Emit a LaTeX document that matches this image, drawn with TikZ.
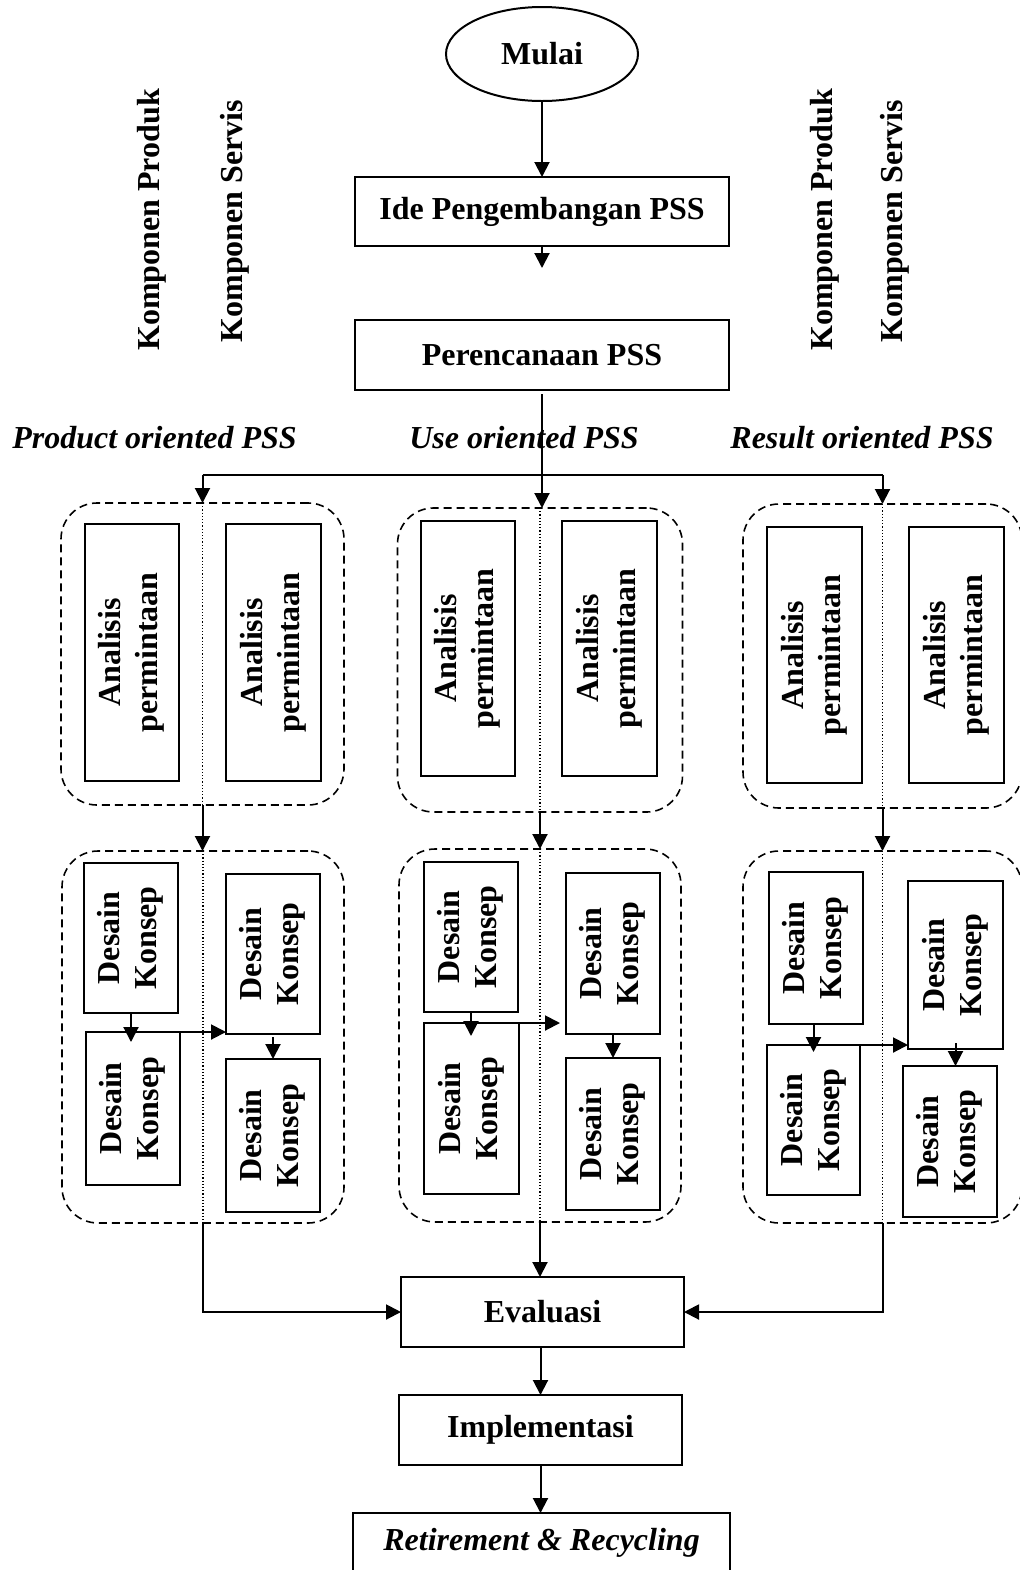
\documentclass[tikz,border=0pt]{standalone}
\usepackage{fontspec}
\setmainfont{Liberation Serif}
\usepackage{graphicx}
\usetikzlibrary{arrows.meta,shapes.geometric}

% two-line text turned upright inside a box
\newcommand\vtext[2]{\rotatebox{90}{\begin{tabular}{@{}c@{}}#1\\#2\end{tabular}}}

\tikzset{
  sz/.style 2 args={minimum width=#1*0.5pt, minimum height=#2*0.5pt},
  box/.style={draw, rectangle, line width=1pt},
  grp/.style={draw, rectangle, line width=0.8pt, dash pattern=on 4pt off 2.5pt, rounded corners=18pt},
  arr/.style={line width=1pt, -{Triangle[length=7.5pt,width=7.5pt]}},
  ln/.style={line width=1pt},
  sep/.style={line width=0.6pt, dash pattern=on 0.6pt off 1pt},
  lbl/.style={font=\fontsize{16}{18.4}\selectfont\bfseries\itshape},
}

\begin{document}
\begin{tikzpicture}[x=0.5pt,y=-0.5pt,
  font=\fontsize{16}{18.4}\selectfont\bfseries,
  every node/.style={inner sep=0pt, outer sep=0pt}]
\useasboundingbox (0,0) rectangle (1020,1570);

% ---- main column, top ----
\node[draw, ellipse, line width=1pt, sz={192}{94}] (mulai) at (542,54) {Mulai};
\node[box, sz={374}{69}] (ide) at (542,211.5) {Ide Pengembangan PSS};
\node[box, sz={374}{70}] (peren) at (542,355) {Perencanaan PSS};
\coordinate (idegap) at (542,268);

\draw[arr] (mulai.south) -- (ide.north);
\draw[arr] (ide.south) -- (idegap);

% ---- column headings ----
\node[rotate=90] (kp1) at (152,220) {Komponen Produk};
\node[rotate=90] (ks1) at (235,221) {Komponen Servis};
\node[rotate=90] (kp2) at (825,220) {Komponen Produk};
\node[rotate=90] (ks2) at (895,221) {Komponen Servis};

\node[lbl] (lp) at (154.5,438) {Product oriented PSS};
\node[lbl] (lu) at (524,438) {Use oriented PSS};
\node[lbl] (lr) at (862,438) {Result oriented PSS};

% ---- dashed groups ----
\node[grp, sz={283}{302}] (g1t) at (202.5,654) {};
\node[grp, sz={285}{304}] (g2t) at (540,660) {};
\node[grp, sz={279}{304}] (g3t) at (882.5,656) {};
\node[grp, sz={282}{372}] (g1b) at (203,1037) {};
\node[grp, sz={282}{373}] (g2b) at (540,1035.5) {};
\node[grp, sz={279}{372}] (g3b) at (882.5,1037) {};

\foreach \g in {g1t,g2t,g3t,g1b,g2b,g3b}
  \draw[sep] (\g.north) -- (\g.south);

% ---- demand analysis boxes ----
\node[box, sz={94}{257}] (a1p) at (132,652.5) {\vtext{Analisis}{permintaan}};
\node[box, sz={95}{257}] (a1s) at (273.5,652.5) {\vtext{Analisis}{permintaan}};
\node[box, sz={94}{255}] (a2p) at (468,648.5) {\vtext{Analisis}{permintaan}};
\node[box, sz={95}{255}] (a2s) at (609.5,648.5) {\vtext{Analisis}{permintaan}};
\node[box, sz={95}{256}] (a3p) at (814.5,655) {\vtext{Analisis}{permintaan}};
\node[box, sz={95}{256}] (a3s) at (956.5,655) {\vtext{Analisis}{permintaan}};

% ---- concept design boxes ----
\node[box, sz={94}{150}] (d1a) at (131,938) {\vtext{Desain}{Konsep}};
\node[box, sz={94}{153}] (d1b) at (133,1108.5) {\vtext{Desain}{Konsep}};
\node[box, sz={94}{160}] (d1c) at (273,954) {\vtext{Desain}{Konsep}};
\node[box, sz={94}{153}] (d1d) at (273,1135.5) {\vtext{Desain}{Konsep}};

\node[box, sz={94}{150}] (d2a) at (471,937) {\vtext{Desain}{Konsep}};
\node[box, sz={95}{171}] (d2b) at (471.5,1108.5) {\vtext{Desain}{Konsep}};
\node[box, sz={94}{161}] (d2c) at (613,953.5) {\vtext{Desain}{Konsep}};
\node[box, sz={94}{152}] (d2d) at (613,1134) {\vtext{Desain}{Konsep}};

\node[box, sz={94}{152}] (d3a) at (816,948) {\vtext{Desain}{Konsep}};
\node[box, sz={93}{150}] (d3b) at (813.5,1120) {\vtext{Desain}{Konsep}};
\node[box, sz={95}{168}] (d3c) at (955.5,965) {\vtext{Desain}{Konsep}};
\node[box, sz={94}{151}] (d3d) at (950,1141.5) {\vtext{Desain}{Konsep}};

% ---- main column, bottom ----
\node[box, sz={283}{70}] (eval) at (542.5,1312) {Evaluasi};
\node[box, sz={283}{70}] (impl) at (540.5,1430) {Implementasi};
\node[box, sz={377}{59}, lbl] (retire) at (541.5,1542.5) {Retirement \& Recycling};

% ---- distribution from planning ----
\coordinate (split) at (542,475);
\draw[arr, shorten <=2pt] (peren.south) -- (peren.south |- g2t.north);
\draw[ln] (g1t.north |- split) -- (g3t.north |- split);
\draw[arr] (g1t.north |- split) -- (g1t.north);
\draw[arr] (g3t.north |- split) -- (g3t.north);

% ---- analysis to design ----
\draw[arr] (g1t.south) -- (g1t.south |- g1b.north);
\draw[arr] (g2t.south) -- (g2t.south |- g2b.north);
\draw[arr] (g3t.south) -- (g3t.south |- g3b.north);

% ---- flows inside the design groups ----
\draw[arr, shorten >=-5pt] (d1a.south) -- (d1a.south |- d1b.north);
\draw[arr] (d1b.north east) -- (d1b.north east -| d1c.west);
\draw[arr, shorten <=1.5pt] (d1c.south) -- (d1c.south |- d1d.north);

\draw[arr, shorten >=-6.5pt] (d2a.south) -- (d2a.south |- d2b.north);
\draw[arr, shorten >=3pt] (d2b.north east) -- (d2b.north east -| d2c.west);
\draw[arr] (d2c.south) -- (d2c.south |- d2d.north);

\draw[arr, shorten >=-3.5pt] (d3b.north |- d3a.south) -- (d3b.north);
\draw[arr] (d3b.north east) -- (d3b.north east -| d3c.west);
\draw[arr, shorten <=-3pt] (d3c.south) -- (d3c.south |- d3d.north);

% ---- into evaluation and onwards ----
\draw[arr] (g1b.south) |- (eval.west);
\draw[arr] (g3b.south) |- (eval.east);
\draw[arr] (g2b.south) -- (g2b.south |- eval.north);
\draw[arr] (eval.south -| impl.north) -- (impl.north);
\draw[arr] (impl.south) -- (impl.south |- retire.north);
\end{tikzpicture}
\end{document}
